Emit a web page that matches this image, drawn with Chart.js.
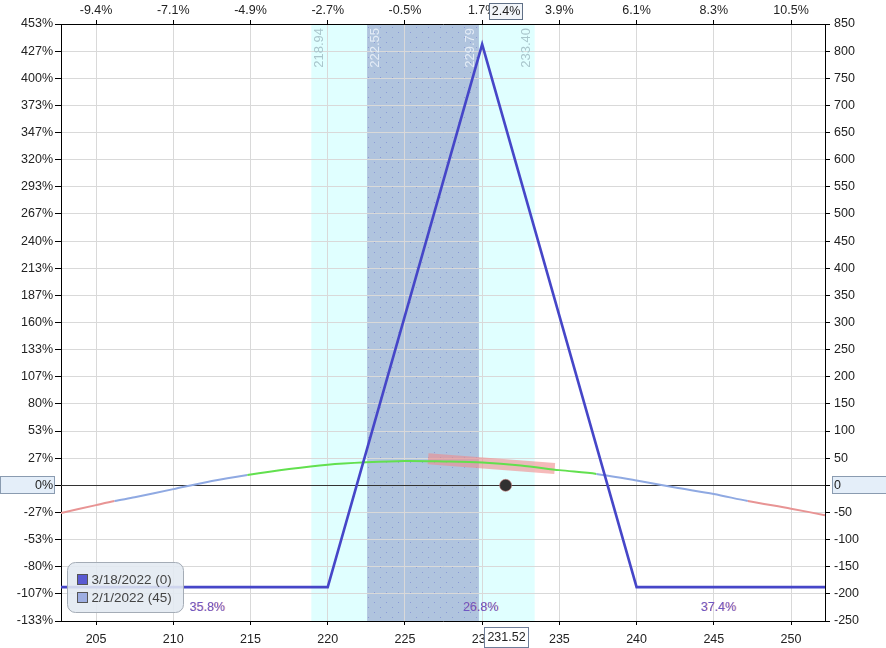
<!DOCTYPE html>
<html>
<head>
<meta charset="utf-8">
<script src="https://cdn.jsdelivr.net/npm/chart.js@4.4.0/dist/chart.umd.min.js"></script>
<style>
html, body { margin: 0; padding: 0; background: #fff; }
canvas { display: block; }
</style>
</head>
<body>
<canvas id="myChart" width="886" height="648"></canvas>
<script>
// price range shown and reference values
var xMin = 202.73;
var xMax = 252.2;
var basePrice = 226.16;   // top axis % is relative to this
var spotPrice = 231.52;
var capital = 187.5;      // left axis % = P&L / capital

// expiration (3/18/2022) P&L
var expPrices = [202.73, 220, 230, 240, 252.2];
var expPnl = [-187.5, -187.5, 812.5, -187.5, -187.5];

// today (2/1/2022, 45 days) P&L
var t0Prices = [202.73, 205, 206.2, 207.5, 210, 212.5, 214.8, 217.5, 220, 222.5, 225, 227.5, 230, 232.5, 235, 237.4, 240, 242.5, 245, 247.2, 250, 252.2];
var t0Pnl = [-51, -36.5, -29, -22, -7, 8, 19, 30, 38, 42.4, 45, 44, 42, 36.5, 28, 21, 9, -4, -16, -29, -43, -55];

// pink band near the spot
var bandPrices = [226.5, 234.7];
var bandPnl = [49, 31];

// shaded ranges
var outerRange = [218.94, 233.40];
var innerRange = [222.55, 229.79];

// probability labels under the curve
var probLabels = ['35.8%', '26.8%', '37.4%'];
var probPrices = [212.2, 229.9, 245.3];

var legendLabels = ['3/18/2022 (0)', '2/1/2022 (45)'];
var legendColors = ['#5a5ad2', '#9eaee2'];

function toPoints(xs, ys) {
    var pts = [];
    for (var i = 0; i < xs.length; i++) {
        pts.push({ x: xs[i], y: ys[i] });
    }
    return pts;
}

// small dotted texture for the inner range
var dotCanvas = document.createElement('canvas');
dotCanvas.width = 12;
dotCanvas.height = 10;
var dctx = dotCanvas.getContext('2d');
dctx.fillStyle = 'rgba(110,120,210,0.55)';
dctx.fillRect(2, 2, 1, 1);
dctx.fillRect(8, 7, 1, 1);

function box(ctx, x, y, w, h, fill, stroke) {
    ctx.fillStyle = fill;
    ctx.fillRect(x, y, w, h);
    ctx.strokeStyle = stroke;
    ctx.lineWidth = 1;
    ctx.strokeRect(x, y, w, h);
}

var overlay = {
    id: 'overlay',
    beforeDraw: function (chart) {
        var ctx = chart.ctx, x = chart.scales.x, y = chart.scales.y, a = chart.chartArea;
        ctx.save();
        ctx.fillStyle = '#fff';
        ctx.fillRect(0, 0, chart.width, chart.height);
        var o0 = x.getPixelForValue(outerRange[0]), o1 = x.getPixelForValue(outerRange[1]);
        ctx.fillStyle = '#e0ffff';
        ctx.fillRect(o0, a.top, o1 - o0, a.bottom - a.top);
        var i0 = x.getPixelForValue(innerRange[0]), i1 = x.getPixelForValue(innerRange[1]);
        ctx.fillStyle = '#b0c4de';
        ctx.fillRect(i0, a.top, i1 - i0, a.bottom - a.top);
        ctx.fillStyle = ctx.createPattern(dotCanvas, 'repeat');
        ctx.fillRect(i0, a.top, i1 - i0, a.bottom - a.top);
        // highlighted zero labels
        var zy = Math.round(y.getPixelForValue(0));
        box(ctx, 0.5, zy - 8.5, 54, 17, '#e4eef9', '#8a9bb0');
        box(ctx, a.right + 7.5, zy - 8.5, 60, 17, '#e4eef9', '#8a9bb0');
        ctx.restore();
    },
    beforeDatasetsDraw: function (chart) {
        var ctx = chart.ctx, x = chart.scales.x, y = chart.scales.y, a = chart.chartArea;
        ctx.save();
        // zero line
        var zy = Math.round(y.getPixelForValue(0)) + 0.5;
        ctx.strokeStyle = '#333';
        ctx.lineWidth = 1.2;
        ctx.beginPath();
        ctx.moveTo(a.left, zy);
        ctx.lineTo(a.right, zy);
        ctx.stroke();
        // rotated range labels
        ctx.font = '13px "Liberation Sans", Arial, sans-serif';
        ctx.textAlign = 'right';
        ctx.textBaseline = 'middle';
        var marks = [
            [outerRange[0], 8, '#a9c6cc'],
            [innerRange[0], 8, '#e4ecf6'],
            [innerRange[1], -8, '#e4ecf6'],
            [outerRange[1], -8, '#a9c6cc']
        ];
        marks.forEach(function (m) {
            ctx.save();
            ctx.translate(x.getPixelForValue(m[0]) + m[1], a.top + 4);
            ctx.rotate(-Math.PI / 2);
            ctx.fillStyle = m[2];
            ctx.fillText(m[0].toFixed(2), 0, 0);
            ctx.restore();
        });
        ctx.restore();
    },
    afterDraw: function (chart) {
        var ctx = chart.ctx, x = chart.scales.x, a = chart.chartArea;
        ctx.save();
        ctx.font = '12.5px "Liberation Sans", Arial, sans-serif';
        ctx.textBaseline = 'middle';
        // probability labels
        ctx.textAlign = 'center';
        for (var i = 0; i < probLabels.length; i++) {
            ctx.fillStyle = 'rgba(220,110,110,0.5)';
            ctx.fillText(probLabels[i], x.getPixelForValue(probPrices[i]) + 0.7, a.bottom - 13);
            ctx.fillStyle = '#6e58c4';
            ctx.fillText(probLabels[i], x.getPixelForValue(probPrices[i]), a.bottom - 13);
        }
        // legend box
        var lx = a.left + 6.5, ly = a.bottom - 58.5;
        ctx.beginPath();
        ctx.roundRect(lx, ly, 116, 50, 8);
        ctx.fillStyle = 'rgba(226,233,241,0.88)';
        ctx.fill();
        ctx.strokeStyle = '#a4acb6';
        ctx.lineWidth = 1;
        ctx.stroke();
        ctx.textAlign = 'left';
        ctx.font = '13.5px "Liberation Sans", Arial, sans-serif';
        for (var j = 0; j < legendLabels.length; j++) {
            var sy = ly + 12 + j * 18;
            box(ctx, lx + 10, sy, 10, 10, legendColors[j], '#555');
            ctx.fillStyle = '#444';
            ctx.fillText(legendLabels[j], lx + 24, sy + 5.5);
        }
        // spot price boxes
        var sx = Math.round(x.getPixelForValue(spotPrice));
        ctx.font = '12.5px "Liberation Sans", Arial, sans-serif';
        ctx.textAlign = 'center';
        box(ctx, sx - 21.5, a.bottom + 6.5, 44, 20, '#fff', '#6f7f9a');
        ctx.fillStyle = '#222';
        ctx.fillText(spotPrice.toFixed(2), sx + 0.5, a.bottom + 17);
        box(ctx, sx - 16.5, 3.5, 33, 16, '#f2f5f9', '#5f6f86');
        ctx.fillStyle = '#222';
        ctx.fillText(((spotPrice / basePrice - 1) * 100).toFixed(1) + '%', sx, 12);
        ctx.restore();
    }
};

Chart.defaults.font.family = '"Liberation Sans", Arial, sans-serif';
Chart.defaults.font.size = 12.5;
Chart.defaults.color = '#222';

var ctx = document.getElementById('myChart').getContext('2d');
var myChart = new Chart(ctx, {
    type: 'line',
    data: {
        datasets: [{
            label: 'spot',
            data: [{ x: spotPrice, y: 0 }],
            showLine: false,
            pointRadius: 6,
            pointBackgroundColor: '#303030',
            pointBorderColor: 'rgba(200,120,120,0.6)',
            pointBorderWidth: 1
        }, {
            label: legendLabels[0],
            data: toPoints(expPrices, expPnl),
            borderColor: '#4646c8',
            borderWidth: 2.6,
            pointRadius: 0,
            tension: 0
        }, {
            label: legendLabels[1],
            data: toPoints(t0Prices, t0Pnl),
            borderWidth: 2,
            pointRadius: 0,
            tension: 0.3,
            segment: {
                borderColor: function (c) {
                    var m = (c.p0.parsed.y + c.p1.parsed.y) / 2;
                    if (m > 20) return '#62e04e';
                    if (m < -29) return '#e89494';
                    return '#8fa9e2';
                }
            }
        }, {
            label: 'band',
            data: toPoints(bandPrices, bandPnl),
            borderColor: 'rgba(240,140,140,0.6)',
            borderWidth: 11,
            borderCapStyle: 'butt',
            pointRadius: 0
        }]
    },
    options: {
        responsive: false,
        animation: false,
        layout: { padding: 0 },
        plugins: {
            legend: { display: false },
            tooltip: { enabled: false }
        },
        scales: {
            x: {
                type: 'linear',
                position: 'bottom',
                min: xMin,
                max: xMax,
                ticks: { stepSize: 5, includeBounds: false, padding: 7, maxRotation: 0 },
                grid: { color: '#d9d9d9', tickColor: '#000', tickLength: 4 },
                border: { color: '#000', width: 1 },
                afterFit: function (s) { s.height = 27; }
            },
            x2: {
                type: 'linear',
                position: 'top',
                display: true,
                min: xMin,
                max: xMax,
                ticks: {
                    stepSize: 5,
                    includeBounds: false,
                    padding: 2,
                    maxRotation: 0,
                    callback: function (v) { return ((v / basePrice - 1) * 100).toFixed(1) + '%'; }
                },
                grid: { drawOnChartArea: false, tickColor: '#000', tickLength: 4 },
                border: { color: '#000', width: 1 },
                afterFit: function (s) { s.height = 24; }
            },
            y: {
                type: 'linear',
                position: 'left',
                min: -250,
                max: 850,
                ticks: {
                    stepSize: 50,
                    padding: 2,
                    callback: function (v) { return Math.round(v / capital * 100) + '%'; }
                },
                grid: { color: '#d9d9d9', tickColor: '#000', tickLength: 6 },
                border: { color: '#000', width: 1 },
                afterFit: function (s) { s.width = 61; }
            },
            y2: {
                type: 'linear',
                position: 'right',
                display: true,
                min: -250,
                max: 850,
                ticks: { stepSize: 50, padding: 4 },
                grid: { drawOnChartArea: false, tickColor: '#000', tickLength: 5 },
                border: { color: '#000', width: 1 },
                afterFit: function (s) { s.width = 61; }
            }
        }
    },
    plugins: [overlay]
});
</script>
</body>
</html>
